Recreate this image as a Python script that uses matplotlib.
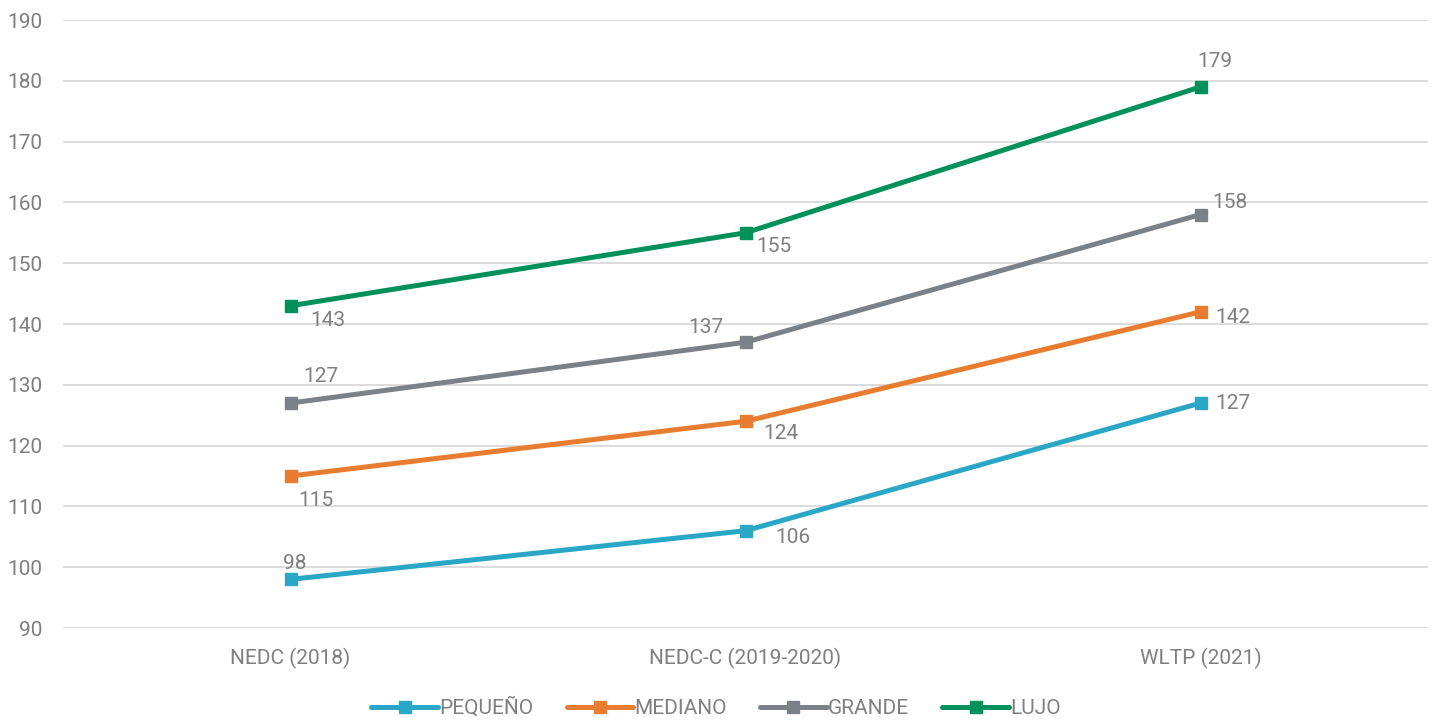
import matplotlib
matplotlib.use("Agg")
import matplotlib.pyplot as plt

categories = ["NEDC (2018)", "NEDC-C (2019-2020)", "WLTP (2021)"]
series_names = ["PEQUEÑO", "MEDIANO", "GRANDE", "LUJO"]
pequeno = [98, 106, 127]
mediano = [115, 124, 142]
grande = [127, 137, 158]
lujo = [143, 155, 179]
yticks = [90, 100, 110, 120, 130, 140, 150, 160, 170, 180, 190]

colors = ["#2aa6c6", "#e87d31", "#7a8188", "#00905a"]
# label offsets in pixels (dx, dy) per series per point
offsets = [
    [(4, 16), (47, -7), (32, 0)],
    [(25, -24), (35, -12), (32, -6)],
    [(30, 27), (-40, 15), (29, 12)],
    [(37, -15), (28, -14), (14, 25)],
]

plt.rcParams['font.family'] = ['Roboto', 'DejaVu Sans']

txtc = "#7f7f7f"
fig = plt.figure(figsize=(14.32, 7.24), dpi=100)
ax = fig.add_axes([63/1432, 1-628/724, 1365/1432, (628-20)/724])

x = list(range(len(categories)))
data = [pequeno, mediano, grande, lujo]
for name, vals, c, offs in zip(series_names, data, colors, offsets):
    ax.plot(x, vals, color=c, lw=3.6, marker='s', ms=9, label=name, solid_capstyle='round')
    for xi, v, (dx, dy) in zip(x, vals, offs):
        ax.annotate(str(v), (xi, v), xytext=(dx, dy), textcoords='offset pixels',
                    ha='center', va='center', fontsize=15, color=txtc)

ax.set_xlim(-0.5, 2.5)
ax.set_ylim(90, 190)
ax.set_yticks(yticks)
ax.set_xticks(x)
ax.set_xticklabels(categories)
ax.grid(axis='y', color='#d9d9d9', lw=1.3)
ax.set_axisbelow(True)
for s in ax.spines.values():
    s.set_visible(False)
ax.tick_params(length=0, labelsize=15, labelcolor=txtc)
ax.tick_params(axis='y', pad=15)
ax.tick_params(axis='x', pad=14)

leg = fig.legend(loc='center', bbox_to_anchor=(0.5, 1-708/724), ncol=4, frameon=False,
                 fontsize=15, handlelength=3.2, columnspacing=1.6, handletextpad=0.05,
                 labelcolor=txtc)
fig.savefig("out.png", dpi=100)
